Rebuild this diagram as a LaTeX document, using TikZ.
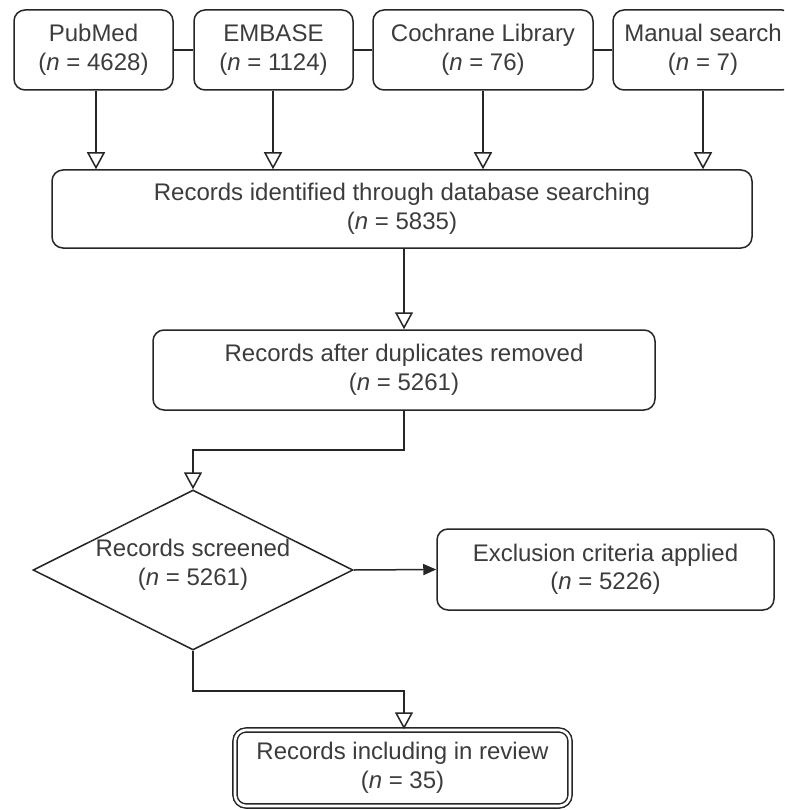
\documentclass[tikz,border=0pt]{standalone}
\usepackage{fontspec}
\setmainfont{Liberation Sans}
\usetikzlibrary{arrows.meta,shapes.geometric}
\definecolor{lineC}{HTML}{262626}
\definecolor{textC}{HTML}{3C3C3C}
\begin{document}
\begin{tikzpicture}[x=1pt,y=-1pt,
  every node/.style={font=\fontsize{24}{28.5}\selectfont, text=textC},
  box/.style={draw=lineC, line width=1.5pt, rounded corners=11pt, align=center, inner sep=0pt},
  link/.style={draw=lineC, line width=1.5pt},
  openarrow/.style={link, -{Triangle[open, length=17pt, width=18pt, fill=white]}},
  fillarrow/.style={link, -{Triangle[length=13pt, width=11pt]}},
]
\useasboundingbox (0,0) rectangle (784,810);
\clip (0,0) rectangle (784,810);
\fill[white] (0,0) rectangle (784,810);

\node[box, minimum width=159pt, minimum height=80pt] (pub) at (93.5,50) {PubMed\\(\textit{n} = 4628)};
\node[box, minimum width=159pt, minimum height=80pt] (emb) at (273.5,50) {EMBASE\\(\textit{n} = 1124)};
\node[box, minimum width=220pt, minimum height=80pt] (coc) at (483,50) {Cochrane Library\\(\textit{n} = 76)};
\node[box, minimum width=180pt, minimum height=80pt] (man) at (703,50) {Manual search\\(\textit{n} = 7)};

\node[box, minimum width=700pt, minimum height=78pt] (rid) at (402,209) {Records identified through database searching\\(\textit{n} = 5835)};
\node[box, minimum width=502pt, minimum height=80pt] (dup) at (404,370) {Records after duplicates removed\\(\textit{n} = 5261)};

\node[draw=lineC, line width=1.5pt, shape=diamond, minimum width=320pt, minimum height=160pt, inner sep=0pt] (scr) at (193,570) {};
\node[align=center, inner sep=0pt] (scrlabel) at (193,565) {Records screened\\(\textit{n} = 5261)};

\node[box, minimum width=337pt, minimum height=81pt] (exc) at (605.5,569.5) {Exclusion criteria applied\\(\textit{n} = 5226)};

\node[box, double=white, double distance=2.6pt, minimum width=335pt, minimum height=76pt] (inc) at (402.5,768) {Records including in review\\(\textit{n} = 35)};

% horizontal links between source boxes
\draw[link] (pub.east) -- (emb.west);
\draw[link] (emb.east) -- (coc.west);
\draw[link] (coc.east) -- (man.west);

% source arrows
\draw[openarrow] ([xshift=2.5pt]pub.south) -- ([xshift=2.5pt]pub.south |- rid.north);
\draw[openarrow] ([xshift=-0.5pt]emb.south) -- ([xshift=-0.5pt]emb.south |- rid.north);
\draw[openarrow] (coc.south) -- (coc.south |- rid.north);
\draw[openarrow] (man.south) -- (man.south |- rid.north);

\draw[openarrow] (rid.south -| dup.north) -- (dup.north);
\draw[openarrow] (dup.south) -- ++(0,39) -| (scr.north);
\draw[fillarrow] (scr.east) -- (exc.west);
\draw[openarrow] (scr.south) -- ++(0,40) -| ([xshift=1.5pt]inc.north);
\end{tikzpicture}
\end{document}
